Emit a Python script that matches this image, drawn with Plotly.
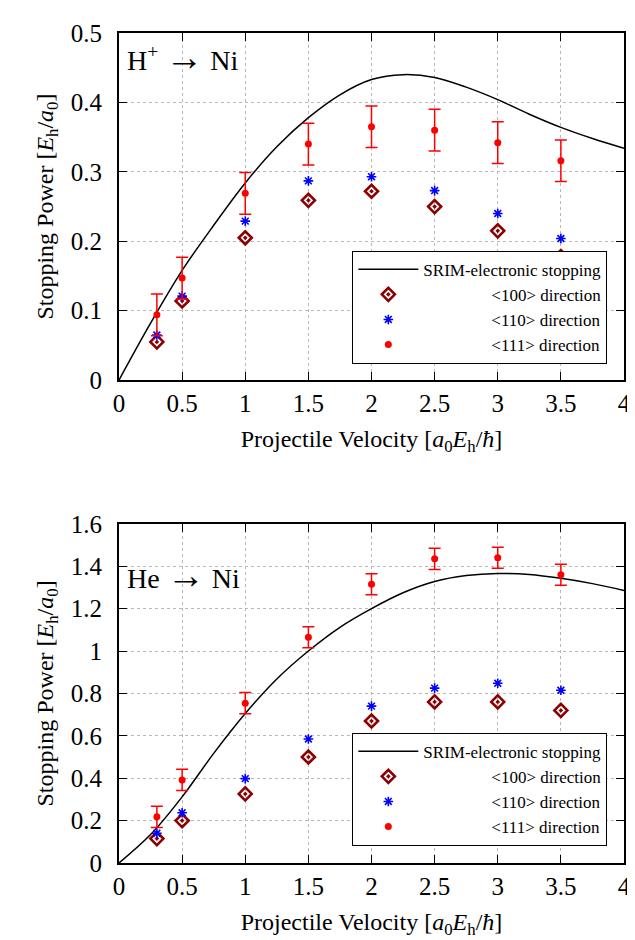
import plotly.graph_objs as go
from plotly.subplots import make_subplots

# ---------------- data ----------------
vel = [0.3, 0.5, 1.0, 1.5, 2.0, 2.5, 3.0, 3.5]

# H+ -> Ni
h_100 = [0.055, 0.114, 0.205, 0.259, 0.272, 0.250, 0.215, 0.178]
h_110 = [0.065, 0.121, 0.229, 0.287, 0.293, 0.273, 0.240, 0.204]
h_111 = [0.094, 0.147, 0.269, 0.340, 0.365, 0.360, 0.342, 0.316]
h_111_err = [0.03, 0.03, 0.03, 0.03, 0.03, 0.03, 0.03, 0.03]

# He -> Ni
he_100 = [0.115, 0.200, 0.326, 0.500, 0.670, 0.760, 0.760, 0.720]
he_110 = [0.140, 0.237, 0.398, 0.585, 0.740, 0.825, 0.848, 0.815]
he_111 = [0.218, 0.392, 0.754, 1.065, 1.315, 1.435, 1.440, 1.360]
he_111_err = [0.05, 0.05, 0.05, 0.05, 0.05, 0.05, 0.05, 0.05]

# SRIM electronic stopping curves
srim_v = [0, 0.25, 0.5, 0.75, 1.0, 1.25, 1.5, 1.75, 2.0, 2.25, 2.5, 2.75, 3.0, 3.25, 3.5, 3.75, 4.0]
srim_h = [0, 0.082, 0.158, 0.223, 0.284, 0.336, 0.378, 0.411, 0.433, 0.440, 0.436, 0.422,
          0.404, 0.383, 0.364, 0.348, 0.334]
srim_he = [0, 0.134, 0.312, 0.517, 0.705, 0.868, 1.000, 1.112, 1.200, 1.275, 1.328, 1.356,
           1.366, 1.361, 1.343, 1.318, 1.286]

FONT = "Liberation Serif"
DARKRED = "#8b0000"
PAD = "&nbsp;" * 16

fig = make_subplots(rows=2, cols=1, vertical_spacing=0.173)


def add_panel(row, srim, d100, d110, d111, err, legend):
    fig.add_trace(go.Scatter(x=srim_v, y=srim, mode="lines",
                             line=dict(color="black", width=1.5, shape="spline", smoothing=1.0),
                             name="SRIM-electronic stopping", legend=legend), row=row, col=1)
    fig.add_trace(go.Scatter(x=vel, y=d100, mode="markers",
                             marker=dict(symbol="diamond-open-dot", size=10, color=DARKRED,
                                         line=dict(width=2.6, color=DARKRED)),
                             name=PAD + "&lt;100&gt; direction", legend=legend), row=row, col=1)
    fig.add_trace(go.Scatter(x=vel, y=d110, mode="markers",
                             marker=dict(symbol="asterisk-open", size=8, color="blue",
                                         line=dict(width=1.6, color="blue")),
                             name=PAD + "&lt;110&gt; direction", legend=legend), row=row, col=1)
    fig.add_trace(go.Scatter(x=vel, y=d111, mode="markers",
                             marker=dict(symbol="circle", size=7, color="red"),
                             error_y=dict(type="data", array=err, color="red", thickness=1.5, width=6),
                             name=PAD + "&lt;111&gt; direction", legend=legend), row=row, col=1)


add_panel(1, srim_h, h_100, h_110, h_111, h_111_err, "legend")
add_panel(2, srim_he, he_100, he_110, he_111, he_111_err, "legend2")

axis_common = dict(showline=True, linecolor="black", linewidth=2, mirror="ticks",
                   ticks="inside", ticklen=8, tickcolor="black", tickwidth=1.2,
                   showgrid=True, gridcolor="#b8b8b8", griddash="dot", gridwidth=1,
                   zeroline=False, tickfont=dict(family=FONT, size=25, color="black"))

xtitle = "Projectile Velocity [<i>a</i><sub>0</sub><i>E</i><sub>h</sub>/<i>ħ</i>]"
ytitle = "Stopping Power [<i>E</i><sub>h</sub>/<i>a</i><sub>0</sub>]"
title_font = dict(family=FONT, size=24, color="black")

for r in (1, 2):
    fig.update_xaxes(range=[0, 4], dtick=0.5, title=dict(text=xtitle, font=title_font, standoff=14),
                     row=r, col=1, **axis_common)
fig.update_yaxes(range=[0, 0.5], dtick=0.1, row=1, col=1, ticklabelstandoff=10,
                 title=dict(text=ytitle, font=title_font, standoff=10), **axis_common)
fig.update_yaxes(range=[0, 1.6], row=2, col=1, tickvals=[0, 0.2, 0.4, 0.6, 0.8, 1, 1.2, 1.4, 1.6],
                 ticktext=["0", "0.2", "0.4", "0.6", "0.8", "1", "1.2", "1.4", "1.6"], ticklabelstandoff=10,
                 title=dict(text=ytitle, font=title_font, standoff=10), **axis_common)

arrow = '&nbsp;<span style="font-size:38px">→</span>&nbsp;'
fig.add_annotation(x=0.05, y=0.466, xref="x", yref="y", text="H<sup>+</sup>" + arrow + "Ni", showarrow=False,
                   xanchor="left", yanchor="middle", font=dict(family=FONT, size=28, color="black"))
fig.add_annotation(x=0.05, y=1.36, xref="x2", yref="y2", text="He" + arrow + "Ni", showarrow=False,
                   xanchor="left", yanchor="middle", font=dict(family=FONT, size=28, color="black"))

legend_style = dict(bgcolor="white", bordercolor="black", borderwidth=1,
                    font=dict(family=FONT, size=17, color="black"),
                    xanchor="right", yanchor="top", tracegroupgap=0, itemwidth=60)

fig.update_layout(
    width=635, height=940,
    margin=dict(l=111, r=12, t=21, b=85),
    font=dict(family=FONT, color="black"),
    plot_bgcolor="white", paper_bgcolor="white",
    legend=dict(x=0.967, y=0.7377, **legend_style),
    legend2=dict(x=0.967, y=0.157, **legend_style),
)
fig.update_yaxes(domain=[0.5818, 1.0], row=1, col=1)
fig.update_yaxes(domain=[0.0, 0.4086], row=2, col=1)

fig.write_html("out.html")
